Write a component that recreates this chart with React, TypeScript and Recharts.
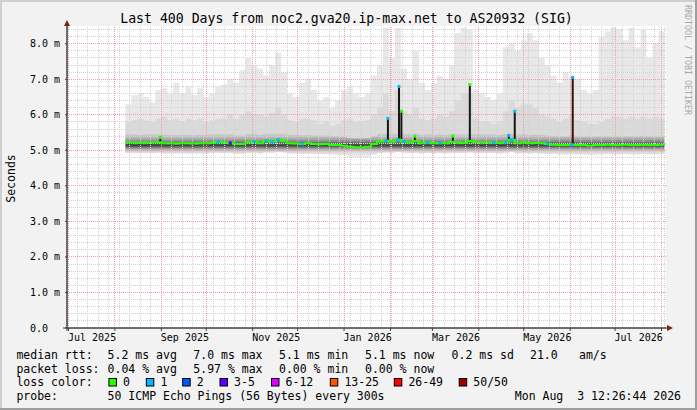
import {
  ComposedChart,
  Area,
  Line,
  Scatter,
  XAxis,
  YAxis,
  ReferenceLine,
  CartesianGrid,
} from 'recharts';

// smokeping buckets: 4 days each, first one starts 38 days after Jul 1 2025
const FIRST_DAY = 38;
const BUCKET_DAYS = 4;
const NOW_DAY = 398;

// top of the light smoke (ms)
const maxRtt = [
  6.3, 6.55, 6.6, 6.5, 6.35, 6.7, 6.75, 6.6, 6.9, 6.6,
  6.8, 6.55, 6.75, 6.5, 6.6, 6.8, 6.85, 7.0, 6.9, 7.25,
  7.6, 7.4, 7.3, 7.1, 7.4, 7.75, 7.2, 6.6, 6.5, 6.9,
  7.0, 6.7, 6.4, 6.5, 6.2, 6.4, 6.7, 6.8, 6.6, 6.5,
  6.6, 7.1, 7.4, 8.45, 7.6, 8.45, 7.3, 7.0, 7.8, 6.9,
  6.7, 6.9, 7.1, 7.0, 7.4, 8.3, 8.45, 8.4, 6.7, 6.6,
  6.5, 6.4, 6.6, 7.9, 8.0, 7.8, 8.1, 8.3, 8.1, 7.6,
  7.4, 7.1, 6.9, 7.2, 7.05, 7.0, 6.7, 6.6, 6.7, 8.2,
  8.35, 8.45, 8.4, 8.1, 8.45, 7.9, 8.4, 7.6, 8.0, 8.35,
];

// top of the medium smoke (ms)
const midRtt = [
  5.8, 5.85, 5.9, 5.85, 5.8, 5.9, 5.95, 5.85, 5.9, 5.8,
  5.9, 5.85, 5.9, 5.8, 5.85, 5.9, 5.9, 6.0, 5.9, 6.0,
  6.1, 6.0, 6.0, 5.95, 6.05, 6.2, 6.0, 5.85, 5.8, 5.9,
  5.9, 5.85, 5.75, 5.8, 5.7, 5.75, 5.85, 5.9, 5.8, 5.8,
  5.85, 6.0, 6.2, 6.6, 6.1, 6.7, 6.1, 6.0, 6.2, 5.9,
  5.85, 5.9, 6.0, 5.95, 6.1, 6.4, 6.6, 6.6, 5.9, 5.8,
  5.8, 5.75, 5.8, 6.1, 6.4, 6.2, 6.3, 6.3, 6.2, 6.0,
  5.95, 5.9, 5.8, 5.9, 6.0, 5.85, 5.8, 5.75, 5.75, 5.8,
  5.9, 5.95, 5.95, 5.9, 5.95, 5.9, 5.95, 5.9, 5.95, 5.9,
];

// top of the dark core around the median (ms)
const coreRtt = [
  5.45, 5.45, 5.44, 5.45, 5.45, 5.46, 5.44, 5.44, 5.43, 5.44,
  5.44, 5.43, 5.44, 5.44, 5.45, 5.47, 5.45, 5.45, 5.42, 5.42,
  5.46, 5.48, 5.44, 5.5, 5.47, 5.5, 5.5, 5.44, 5.43, 5.42,
  5.44, 5.42, 5.41, 5.42, 5.4, 5.4, 5.38, 5.35, 5.34, 5.34,
  5.35, 5.4, 5.47, 5.5, 5.48, 5.5, 5.48, 5.45, 5.5, 5.44,
  5.46, 5.44, 5.45, 5.44, 5.48, 5.46, 5.45, 5.5, 5.46, 5.45,
  5.45, 5.45, 5.44, 5.47, 5.5, 5.44, 5.46, 5.44, 5.45, 5.44,
  5.42, 5.4, 5.39, 5.39, 5.42, 5.39, 5.39, 5.38, 5.39, 5.39,
  5.4, 5.39, 5.39, 5.4, 5.39, 5.39, 5.4, 5.39, 5.39, 5.4,
];

// bottom of the smoke (ms)
const lowRtt = [
  4.93, 4.93, 4.93, 4.93, 4.93, 4.94, 4.92, 4.92, 4.92, 4.92,
  4.92, 4.92, 4.92, 4.92, 4.93, 4.94, 4.93, 4.93, 4.91, 4.91,
  4.93, 4.94, 4.92, 4.95, 4.94, 4.96, 4.95, 4.92, 4.92, 4.91,
  4.92, 4.91, 4.9, 4.91, 4.89, 4.89, 4.87, 4.83, 4.82, 4.82,
  4.83, 4.88, 4.93, 4.95, 4.94, 4.96, 4.94, 4.93, 4.94, 4.92,
  4.93, 4.92, 4.93, 4.92, 4.94, 4.93, 4.93, 4.95, 4.93, 4.93,
  4.93, 4.93, 4.92, 4.94, 4.96, 4.92, 4.93, 4.92, 4.93, 4.92,
  4.91, 4.9, 4.89, 4.89, 4.9, 4.89, 4.89, 4.88, 4.89, 4.89,
  4.9, 4.89, 4.89, 4.9, 4.89, 4.89, 4.9, 4.89, 4.89, 4.9,
];

// median rtt (ms)
const medianRtt = [
  5.22, 5.22, 5.21, 5.22, 5.22, 5.23, 5.2, 5.2, 5.19, 5.2,
  5.2, 5.19, 5.2, 5.2, 5.21, 5.24, 5.22, 5.21, 5.18, 5.18,
  5.22, 5.25, 5.2, 5.27, 5.24, 5.3, 5.27, 5.2, 5.19, 5.18,
  5.2, 5.18, 5.17, 5.18, 5.15, 5.15, 5.13, 5.1, 5.09, 5.09,
  5.1, 5.18, 5.25, 5.27, 5.24, 5.3, 5.25, 5.22, 5.26, 5.2,
  5.22, 5.2, 5.21, 5.2, 5.24, 5.22, 5.21, 5.26, 5.23, 5.22,
  5.22, 5.22, 5.21, 5.23, 5.3, 5.2, 5.22, 5.2, 5.21, 5.2,
  5.18, 5.16, 5.15, 5.15, 5.16, 5.15, 5.15, 5.14, 5.15, 5.15,
  5.16, 5.15, 5.15, 5.16, 5.15, 5.15, 5.16, 5.15, 5.15, 5.16,
];

// loss class index per bucket (0 = no loss)
const lossCode = [
  0, 0, 0, 0, 0, 0, 0, 0, 0, 0,
  0, 0, 0, 0, 0, 1, 0, 3, 0, 0,
  0, 1, 0, 1, 1, 1, 0, 0, 0, 1,
  0, 0, 0, 0, 0, 0, 0, 0, 0, 0,
  0, 0, 0, 1, 0, 1, 1, 0, 0, 0,
  1, 0, 1, 0, 0, 0, 0, 0, 0, 0,
  0, 1, 0, 1, 1, 0, 0, 0, 0, 0,
  1, 0, 0, 0, 1, 0, 0, 0, 0, 0,
  0, 0, 0, 0, 0, 0, 0, 0, 0, 0,
];

// short median excursions
const spikeDays = [61.3, 213.3, 220.7, 222.3, 231.3, 256.7, 268, 294, 298, 336.7];
const spikeBases = [5.22, 5.27, 5.3, 5.3, 5.26, 5.24, 5.26, 5.23, 5.3, 5.16];
const spikeTops = [5.36, 5.9, 6.8, 6.1, 5.4, 5.4, 6.85, 5.42, 6.1, 7.05];
const spikeLoss = [0, 1, 1, 0, 0, 0, 0, 1, 1, 1];
const SPIKE_STROKES = ['#161616', '#161616', '#161616', '#161616', '#161616', '#161616', '#161616', '#161616', '#161616', '#3d0c0c'];

const MONTH_DAYS = [0, 31, 62, 92, 123, 153, 184, 215, 243, 274, 304, 335, 365, 396];
const MONTH_LABELS = ['Jul 2025', '', 'Sep 2025', '', 'Nov 2025', '', 'Jan 2026', '', 'Mar 2026', '', 'May 2026', '', 'Jul 2026', ''];
const Y_TICKS = [0, 1, 2, 3, 4, 5, 6, 7, 8];
const Y_LABELS = ['0.0', '1.0 m', '2.0 m', '3.0 m', '4.0 m', '5.0 m', '6.0 m', '7.0 m', '8.0 m'];

const LOSS_LABELS = ['0', '1', '2', '3-5', '6-12', '13-25', '26-49', '50/50'];
const LOSS_COLORS = ['#26ff00', '#00b8ff', '#0059ff', '#5e00ff', '#e000ff', '#ff5500', '#ff0000', '#a10000'];

const TITLE = 'Last 400 Days from noc2.gva20.ip-max.net to AS20932 (SIG)';
const RTT_STATS = ['5.2 ms avg', '7.0 ms max', '5.1 ms min', '5.1 ms now', '0.2 ms sd', '21.0', 'am/s'];
const LOSS_STATS = ['0.04 % avg', '5.97 % max', '0.00 % min', '0.00 % now'];
const PROBE_TEXT = '50 ICMP Echo Pings (56 Bytes) every 300s';
const STAMP = 'Mon Aug  3 12:26:44 2026';

const STAT_X = [107.6, 193.3, 279, 365, 451.6, 530, 579];
const BOX_X = [108.4, 145.8, 182.2, 219.5, 271, 329.8, 393.8, 458.7];

const MONO = '"DejaVu Sans Mono", monospace';
const MINOR_GRID = '#d2d2d2';
const MAJOR_GRID = '#efa0a0';

const rows: any[] = maxRtt.map((m, i) => ({
  day: FIRST_DAY + i * BUCKET_DAYS,
  light: [lowRtt[i], m],
  mid: [lowRtt[i], midRtt[i]],
  core: [lowRtt[i], coreRtt[i]],
  median: medianRtt[i],
}));
rows.push({ ...rows[rows.length - 1], day: NOW_DAY });

const lossDots = lossCode
  .map((c, i) => ({ day: FIRST_DAY + i * BUCKET_DAYS + 2, v: medianRtt[i], c }))
  .filter((p) => p.c > 0);

const spikeDots = spikeDays.map((d, i) => ({ day: d, v: spikeTops[i], c: spikeLoss[i] }));

const weekLines: number[] = [];
for (let d = -1; d < 399; d += 7) {
  if (!MONTH_DAYS.includes(d)) weekLines.push(d);
}
const minorY: number[] = [];
for (let k = 1; k <= 42; k++) {
  if (k % 5 !== 0) minorY.push(k / 5);
}

function XTick(props: any) {
  const idx = MONTH_DAYS.indexOf(props.payload.value);
  const label = MONTH_LABELS[idx];
  if (!label) return null;
  return (
    <text x={props.x - 0.5} y={341} fontFamily={MONO} fontSize={10} fill="#000" textAnchor="start">
      {label}
    </text>
  );
}

function YTick(props: any) {
  const idx = Y_TICKS.indexOf(props.payload.value);
  return (
    <text x={30} y={props.y + 3.5} fontFamily={MONO} fontSize={10} fill="#000" textAnchor="start">
      {Y_LABELS[idx]}
    </text>
  );
}

function Dot(props: any) {
  const { cx, cy, payload } = props;
  if (cx == null || cy == null) return null;
  return <rect x={cx - 1.5} y={cy - 1.5} width={3} height={3} fill={LOSS_COLORS[payload.c]} />;
}

export default function App() {
  return (
    <div
      style={{
        position: 'absolute',
        left: 0,
        top: 0,
        width: 697,
        height: 410,
        background: '#f2f2f2',
        overflow: 'hidden',
      }}
    >
      <ComposedChart width={697} height={410} data={rows} margin={{ top: 26, right: 31, bottom: 0, left: 0 }}>
        <defs>
          <linearGradient id="coreSmoke" x1="0" y1="0" x2="0" y2="1">
            <stop offset="0%" stopColor="#d8d8d8" />
            <stop offset="23%" stopColor="#b4b4b4" />
            <stop offset="36%" stopColor="#8c8c8c" />
            <stop offset="46%" stopColor="#5a5a5a" />
            <stop offset="53%" stopColor="#424242" />
            <stop offset="60%" stopColor="#727272" />
            <stop offset="68%" stopColor="#aaaaaa" />
            <stop offset="77%" stopColor="#d0d0d0" />
            <stop offset="86%" stopColor="#e2e2e2" />
            <stop offset="100%" stopColor="#efefef" />
          </linearGradient>
        </defs>
        <CartesianGrid fill="#ffffff" horizontal={false} vertical={false} stroke="none" />
        <XAxis
          dataKey="day"
          type="number"
          domain={[-1, 399]}
          allowDataOverflow
          ticks={MONTH_DAYS}
          interval={0}
          height={82}
          tick={<XTick />}
          tickSize={3}
          tickLine={{ stroke: '#404040' }}
          axisLine={{ stroke: '#404040' }}
        />
        <YAxis
          type="number"
          domain={[0, 8.5]}
          allowDataOverflow
          ticks={Y_TICKS}
          interval={0}
          width={67}
          tick={<YTick />}
          tickSize={2}
          tickLine={{ stroke: '#404040' }}
          axisLine={{ stroke: '#404040' }}
        />
        <Area dataKey="light" type="stepAfter" stroke="none" fill="#e8e8e8" fillOpacity={1} isAnimationActive={false} />
        <Area dataKey="mid" type="stepAfter" stroke="none" fill="#dadada" fillOpacity={1} isAnimationActive={false} />
        <Area dataKey="core" type="stepAfter" stroke="none" fill="url(#coreSmoke)" fillOpacity={1} isAnimationActive={false} />
        {minorY.map((v) => (
          <ReferenceLine key={`my${v}`} y={v} stroke={MINOR_GRID} strokeDasharray="1 1" shapeRendering="crispEdges" />
        ))}
        {weekLines.map((d) => (
          <ReferenceLine key={`w${d}`} x={d} stroke={MINOR_GRID} strokeDasharray="1 1" shapeRendering="crispEdges" />
        ))}
        {Y_TICKS.slice(1).map((v) => (
          <ReferenceLine key={`My${v}`} y={v} stroke={MAJOR_GRID} strokeDasharray="1 1" shapeRendering="crispEdges" />
        ))}
        {MONTH_DAYS.map((d) => (
          <ReferenceLine key={`m${d}`} x={d} stroke={MAJOR_GRID} strokeDasharray="1 1" shapeRendering="crispEdges" />
        ))}
        {spikeDays.map((d, i) => (
          <Line
            key={`s${i}`}
            data={[
              { day: d, v: spikeBases[i] },
              { day: d, v: spikeTops[i] },
            ]}
            dataKey="v"
            stroke={SPIKE_STROKES[i]}
            strokeWidth={2}
            dot={false}
            isAnimationActive={false}
          />
        ))}
        <Line
          dataKey="median"
          type="stepAfter"
          stroke="#26ff00"
          strokeWidth={2}
          dot={false}
          isAnimationActive={false}
        />
        <Scatter data={lossDots} dataKey="v" shape={<Dot />} isAnimationActive={false} />
        <Scatter data={spikeDots} dataKey="v" shape={<Dot />} isAnimationActive={false} />
      </ComposedChart>

      <svg
        width={697}
        height={410}
        style={{ position: 'absolute', left: 0, top: 0, pointerEvents: 'none' }}
        fontFamily={MONO}
      >
        {/* frame */}
        <rect x={0} y={0} width={697} height={2} fill="#cfcfcf" />
        <rect x={0} y={0} width={2} height={410} fill="#cfcfcf" />
        <rect x={0} y={408} width={697} height={2} fill="#9e9e9e" />
        <rect x={695} y={0} width={2} height={410} fill="#9e9e9e" />

        {/* axis extensions and arrows */}
        <line x1={67} y1={22} x2={67} y2={331} stroke="#404040" />
        <line x1={63} y1={328} x2={670} y2={328} stroke="#404040" />
        <polygon points="64,26 70,26 67,20" fill="#7f1f1f" />
        <polygon points="667,325 667,331 673,328" fill="#7f1f1f" />

        <text x={346.5} y={23} fontSize={13.2} textAnchor="middle" fill="#000">
          {TITLE}
        </text>
        <text transform="translate(14.5,178.5) rotate(-90)" fontSize={11.5} textAnchor="middle" fill="#000">
          Seconds
        </text>
        <text transform="translate(684.5,5) rotate(90)" fontSize={8.3} fill="#a8a8a8">
          RRDTOOL / TOBI OETIKER
        </text>

        <text x={16.4} y={358.5} fontSize={11.5}>median rtt:</text>
        {RTT_STATS.map((s, i) => (
          <text key={`r${i}`} x={STAT_X[i]} y={358.5} fontSize={11.5}>
            {s}
          </text>
        ))}
        <text x={16.4} y={372.5} fontSize={11.5}>packet loss:</text>
        {LOSS_STATS.map((s, i) => (
          <text key={`l${i}`} x={STAT_X[i]} y={372.5} fontSize={11.5}>
            {s}
          </text>
        ))}
        <text x={16.4} y={386.3} fontSize={11.5}>loss color:</text>
        {LOSS_LABELS.map((s, i) => (
          <g key={`c${i}`}>
            <rect x={BOX_X[i] + 0.5} y={378.5} width={7.5} height={7.5} fill={LOSS_COLORS[i]} stroke="#000" strokeWidth={1} />
            <text x={BOX_X[i] + 14.6} y={386.3} fontSize={11.5}>
              {s}
            </text>
          </g>
        ))}
        <text x={16.4} y={400.3} fontSize={11.5}>probe:</text>
        <text x={107.6} y={400.3} fontSize={11.5}>{PROBE_TEXT}</text>
        <text x={681} y={400.3} fontSize={11.5} textAnchor="end" style={{ whiteSpace: 'pre' }}>
          {STAMP}
        </text>
      </svg>
    </div>
  );
}
